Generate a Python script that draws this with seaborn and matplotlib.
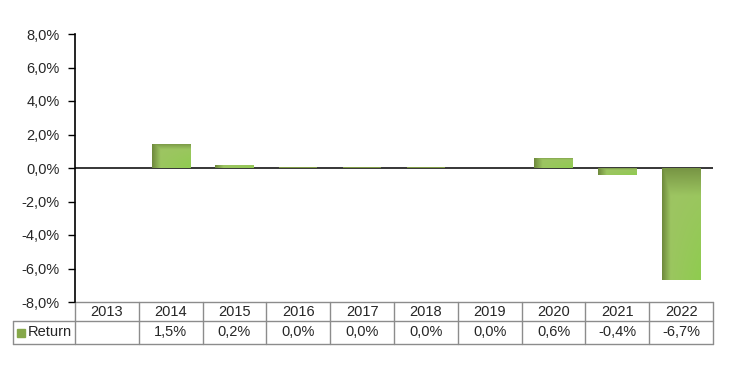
import numpy as np
import pandas as pd
import matplotlib
matplotlib.use('Agg')
import matplotlib.pyplot as plt
import matplotlib.transforms as mtransforms
import seaborn as sns

# chart data
years = ['2013', '2014', '2015', '2016', '2017', '2018', '2019', '2020', '2021', '2022']
returns = [np.nan, 1.46, 0.2, 0.049, 0.049, 0.049, 0.0, 0.6, -0.4, -6.7]
series_name = 'Return'
yticks = [-8, -6, -4, -2, 0, 2, 4, 6, 8]

light_green = np.array([0.62, 0.77, 0.39])
bright_green = np.array([0.56, 0.80, 0.31])
dark_green = np.array([0.40, 0.50, 0.21])
grid_grey = '#8c8c8c'


def fmt_pct(v):
    # comma decimal like the original
    if np.isnan(v):
        return ''
    return f'{v:.1f}%'.replace('.', ',')


def bar_gradient(n=60):
    # darker left edge and top edge, a bit brighter towards bottom right
    xs = np.linspace(0, 1, n)
    ys = np.linspace(0, 1, n)
    X, Y = np.meshgrid(xs, ys)
    img = light_green + (bright_green - light_green) * (X * Y)[..., None]
    dark = np.maximum(np.clip(1 - X / 0.22, 0, 1) * 0.85, np.clip(1 - Y / 0.25, 0, 1) * 0.7)
    img = img * (1 - dark[..., None]) + dark_green * dark[..., None]
    return np.clip(img, 0, 1)


def main():
    sns.set_style('white')
    plt.rcParams['font.family'] = ['Liberation Sans', 'DejaVu Sans']

    df = pd.DataFrame({'year': years, 'ret': returns})

    fig = plt.figure(figsize=(7.29, 3.74), dpi=100)
    ax = fig.add_axes([75 / 729, 72 / 374, 638 / 729, 268 / 374])

    sns.barplot(data=df, x='year', y='ret', order=years, width=0.6,
                color=light_green, errorbar=None, ax=ax)

    # paint the bevel-like gradient into every bar
    grad = bar_gradient()
    for p in list(ax.patches):
        h = p.get_height()
        if np.isnan(h) or h == 0:
            p.set_visible(False)
            continue
        x0 = p.get_x()
        x1 = x0 + p.get_width()
        y0 = p.get_y()
        y1 = y0 + h
        p.set_edgecolor('none')
        p.set_zorder(2)
        if abs(h) < 0.1:
            # tiny slivers: plain olive strip
            p.set_facecolor('#7f9a45')
            continue
        im = ax.imshow(grad, extent=[x0, x1, min(y0, y1), max(y0, y1)],
                       origin='upper', aspect='auto', zorder=2, interpolation='bilinear')
        im.set_clip_path(p)

    ax.set_xlim(-0.5, 9.5)
    ax.set_ylim(-8, 8)
    ax.set_yticks(yticks)
    ax.set_yticklabels([fmt_pct(t) for t in yticks], fontsize=10.5)
    ax.set_xticks([])
    ax.set_xlabel('')
    ax.set_ylabel('')
    ax.tick_params(axis='y', left=True, length=5, width=1, color='black', pad=6)
    for s in ['top', 'right', 'bottom']:
        ax.spines[s].set_visible(False)
    ax.spines['left'].set_color('black')
    ax.spines['left'].set_linewidth(1.2)
    ax.axhline(0, color='black', lw=1.1, zorder=1.5)

    # data table under the plot
    trans = mtransforms.blended_transform_factory(ax.transData, ax.transAxes)
    r1 = -19 / 268
    r2 = -42 / 268
    left_edge = -0.5 - 62 / 63.8
    line_kw = dict(color=grid_grey, lw=1.0, transform=trans, clip_on=False)
    ax.plot([-0.5, 9.5], [0, 0], **line_kw)
    ax.plot([left_edge, 9.5], [r1, r1], **line_kw)
    ax.plot([left_edge, 9.5], [r2, r2], **line_kw)
    for i in range(len(years) + 1):
        ax.plot([i - 0.5, i - 0.5], [0, r2], **line_kw)
    ax.plot([left_edge, left_edge], [r1, r2], **line_kw)

    for i, (yr, v) in enumerate(zip(years, returns)):
        ax.text(i, r1 / 2, yr, ha='center', va='center', fontsize=10.5,
                transform=trans, clip_on=False)
        ax.text(i, (r1 + r2) / 2, fmt_pct(v), ha='center', va='center', fontsize=10.5,
                transform=trans, clip_on=False)

    ax.plot([-0.5 - 54 / 63.8], [(r1 + r2) / 2], marker='s', markersize=6,
            color='#86a84a', transform=trans, clip_on=False)
    ax.text(-0.5 - 47 / 63.8, (r1 + r2) / 2, series_name, ha='left', va='center',
            fontsize=10.5, transform=trans, clip_on=False)

    fig.savefig('out.png', dpi=100)


if __name__ == "__main__":
    main()
